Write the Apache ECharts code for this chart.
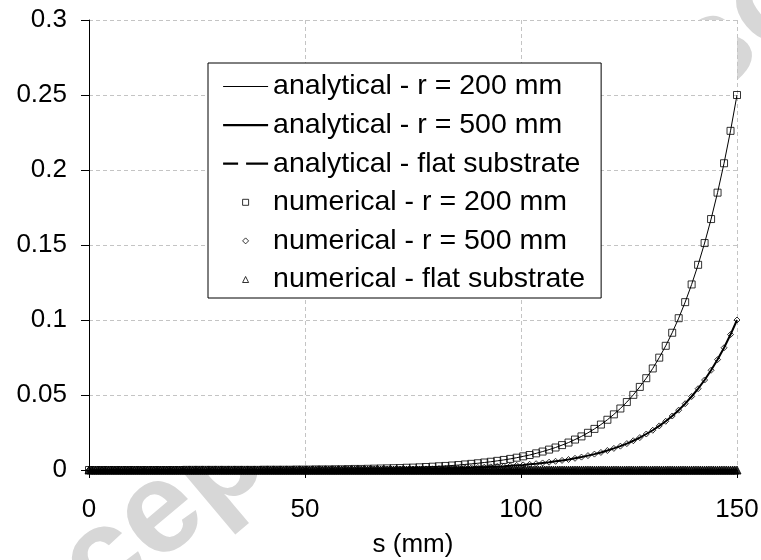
<!DOCTYPE html>
<html>
<head>
<meta charset="utf-8">
<script src="https://cdn.jsdelivr.net/npm/echarts@6/dist/echarts.min.js"></script>
<style>
  html, body { margin: 0; padding: 0; background: #fff; }
  #chart { width: 761px; height: 560px; }
</style>
</head>
<body>
<div id="chart"></div>
<script>
// Arc length along the substrate, s (mm), for the curved-substrate runs
const sValues = [
  0, 1.5, 3, 4.5, 6, 7.5, 9, 10.5, 12, 13.5,
  15, 16.5, 18, 19.5, 21, 22.5, 24, 25.5, 27, 28.5,
  30, 31.5, 33, 34.5, 36, 37.5, 39, 40.5, 42, 43.5,
  45, 46.5, 48, 49.5, 51, 52.5, 54, 55.5, 57, 58.5,
  60, 61.5, 63, 64.5, 66, 67.5, 69, 70.5, 72, 73.5,
  75, 76.5, 78, 79.5, 81, 82.5, 84, 85.5, 87, 88.5,
  90, 91.5, 93, 94.5, 96, 97.5, 99, 100.5, 102, 103.5,
  105, 106.5, 108, 109.5, 111, 112.5, 114, 115.5, 117, 118.5,
  120, 121.5, 123, 124.5, 126, 127.5, 129, 130.5, 132, 133.5,
  135, 136.5, 138, 139.5, 141, 142.5, 144, 145.5, 147, 148.5,
  150
];

// Response for r = 200 mm (analytical and numerical coincide)
const r200 = [
  0, 0, 0, 0, 0, 0, 0, 0, 0, 0,
  0, 0, 0, 0, 0, 0.0001, 0.0001, 0.0001, 0.0001, 0.0001,
  0.0001, 0.0001, 0.0001, 0.0001, 0.0001, 0.0001, 0.0001, 0.0002, 0.0002, 0.0002,
  0.0002, 0.0002, 0.0003, 0.0003, 0.0003, 0.0004, 0.0004, 0.0004, 0.0005, 0.0005,
  0.0006, 0.0007, 0.0007, 0.0008, 0.0009, 0.0010, 0.0011, 0.0012, 0.0013, 0.0015,
  0.0016, 0.0018, 0.0020, 0.0022, 0.0025, 0.0027, 0.0030, 0.0033, 0.0037, 0.0041,
  0.0045, 0.0050, 0.0055, 0.0061, 0.0067, 0.0074, 0.0082, 0.0091, 0.0100, 0.0111,
  0.0123, 0.0136, 0.0150, 0.0166, 0.0183, 0.0203, 0.0224, 0.0248, 0.0274, 0.0303,
  0.0335, 0.0371, 0.0410, 0.0453, 0.0501, 0.0554, 0.0612, 0.0677, 0.0749, 0.0828,
  0.0915, 0.1012, 0.1119, 0.1237, 0.1368, 0.1513, 0.1673, 0.1849, 0.2045, 0.2261,
  0.2500
];

// Response for r = 500 mm
const r500 = [
  0, 0, 0, 0, 0, 0, 0, 0, 0, 0,
  0, 0, 0, 0, 0, 0, 0, 0, 0, 0,
  0, 0, 0, 0, 0, 0, 0, 0, 0.0001, 0.0001,
  0.0001, 0.0001, 0.0001, 0.0001, 0.0001, 0.0001, 0.0001, 0.0002, 0.0002, 0.0002,
  0.0002, 0.0002, 0.0003, 0.0003, 0.0003, 0.0004, 0.0004, 0.0004, 0.0005, 0.0005,
  0.0006, 0.0007, 0.0007, 0.0008, 0.0009, 0.0010, 0.0011, 0.0012, 0.0014, 0.0015,
  0.0017, 0.0019, 0.0021, 0.0023, 0.0025, 0.0028, 0.0031, 0.0034, 0.0038, 0.0042,
  0.0047, 0.0052, 0.0058, 0.0064, 0.0070, 0.0078, 0.0086, 0.0096, 0.0106, 0.0117,
  0.0130, 0.0144, 0.0159, 0.0176, 0.0195, 0.0216, 0.0240, 0.0265, 0.0294, 0.0325,
  0.0360, 0.0399, 0.0442, 0.0490, 0.0542, 0.0600, 0.0665, 0.0736, 0.0815, 0.0903,
  0.1000
];

// Flat substrate run: finer mesh along s (mm)
const sFlat = [
  0, 0.5, 1, 1.5, 2, 2.5, 3, 3.5, 4, 4.5, 5, 5.5, 6, 6.5, 7, 7.5, 8, 8.5, 9, 9.5,
  10, 10.5, 11, 11.5, 12, 12.5, 13, 13.5, 14, 14.5, 15, 15.5, 16, 16.5, 17, 17.5, 18, 18.5, 19, 19.5,
  20, 20.5, 21, 21.5, 22, 22.5, 23, 23.5, 24, 24.5, 25, 25.5, 26, 26.5, 27, 27.5, 28, 28.5, 29, 29.5,
  30, 30.5, 31, 31.5, 32, 32.5, 33, 33.5, 34, 34.5, 35, 35.5, 36, 36.5, 37, 37.5, 38, 38.5, 39, 39.5,
  40, 40.5, 41, 41.5, 42, 42.5, 43, 43.5, 44, 44.5, 45, 45.5, 46, 46.5, 47, 47.5, 48, 48.5, 49, 49.5,
  50, 50.5, 51, 51.5, 52, 52.5, 53, 53.5, 54, 54.5, 55, 55.5, 56, 56.5, 57, 57.5, 58, 58.5, 59, 59.5,
  60, 60.5, 61, 61.5, 62, 62.5, 63, 63.5, 64, 64.5, 65, 65.5, 66, 66.5, 67, 67.5, 68, 68.5, 69, 69.5,
  70, 70.5, 71, 71.5, 72, 72.5, 73, 73.5, 74, 74.5, 75, 75.5, 76, 76.5, 77, 77.5, 78, 78.5, 79, 79.5,
  80, 80.5, 81, 81.5, 82, 82.5, 83, 83.5, 84, 84.5, 85, 85.5, 86, 86.5, 87, 87.5, 88, 88.5, 89, 89.5,
  90, 90.5, 91, 91.5, 92, 92.5, 93, 93.5, 94, 94.5, 95, 95.5, 96, 96.5, 97, 97.5, 98, 98.5, 99, 99.5,
  100, 100.5, 101, 101.5, 102, 102.5, 103, 103.5, 104, 104.5, 105, 105.5, 106, 106.5, 107, 107.5, 108, 108.5, 109, 109.5,
  110, 110.5, 111, 111.5, 112, 112.5, 113, 113.5, 114, 114.5, 115, 115.5, 116, 116.5, 117, 117.5, 118, 118.5, 119, 119.5,
  120, 120.5, 121, 121.5, 122, 122.5, 123, 123.5, 124, 124.5, 125, 125.5, 126, 126.5, 127, 127.5, 128, 128.5, 129, 129.5,
  130, 130.5, 131, 131.5, 132, 132.5, 133, 133.5, 134, 134.5, 135, 135.5, 136, 136.5, 137, 137.5, 138, 138.5, 139, 139.5,
  140, 140.5, 141, 141.5, 142, 142.5, 143, 143.5, 144, 144.5, 145, 145.5, 146, 146.5, 147, 147.5, 148, 148.5, 149, 149.5,
  150
];

// Response for the flat substrate (stays at zero)
const flat = [
  0, 0, 0, 0, 0, 0, 0, 0, 0, 0, 0, 0, 0, 0, 0, 0, 0, 0, 0, 0,
  0, 0, 0, 0, 0, 0, 0, 0, 0, 0, 0, 0, 0, 0, 0, 0, 0, 0, 0, 0,
  0, 0, 0, 0, 0, 0, 0, 0, 0, 0, 0, 0, 0, 0, 0, 0, 0, 0, 0, 0,
  0, 0, 0, 0, 0, 0, 0, 0, 0, 0, 0, 0, 0, 0, 0, 0, 0, 0, 0, 0,
  0, 0, 0, 0, 0, 0, 0, 0, 0, 0, 0, 0, 0, 0, 0, 0, 0, 0, 0, 0,
  0, 0, 0, 0, 0, 0, 0, 0, 0, 0, 0, 0, 0, 0, 0, 0, 0, 0, 0, 0,
  0, 0, 0, 0, 0, 0, 0, 0, 0, 0, 0, 0, 0, 0, 0, 0, 0, 0, 0, 0,
  0, 0, 0, 0, 0, 0, 0, 0, 0, 0, 0, 0, 0, 0, 0, 0, 0, 0, 0, 0,
  0, 0, 0, 0, 0, 0, 0, 0, 0, 0, 0, 0, 0, 0, 0, 0, 0, 0, 0, 0,
  0, 0, 0, 0, 0, 0, 0, 0, 0, 0, 0, 0, 0, 0, 0, 0, 0, 0, 0, 0,
  0, 0, 0, 0, 0, 0, 0, 0, 0, 0, 0, 0, 0, 0, 0, 0, 0, 0, 0, 0,
  0, 0, 0, 0, 0, 0, 0, 0, 0, 0, 0, 0, 0, 0, 0, 0, 0, 0, 0, 0,
  0, 0, 0, 0, 0, 0, 0, 0, 0, 0, 0, 0, 0, 0, 0, 0, 0, 0, 0, 0,
  0, 0, 0, 0, 0, 0, 0, 0, 0, 0, 0, 0, 0, 0, 0, 0, 0, 0, 0, 0,
  0, 0, 0, 0, 0, 0, 0, 0, 0, 0, 0, 0, 0, 0, 0, 0, 0, 0, 0, 0,
  0
];

const seriesNames = [
  'analytical - r = 200 mm',
  'analytical - r = 500 mm',
  'analytical - flat substrate',
  'numerical - r = 200 mm',
  'numerical - r = 500 mm',
  'numerical - flat substrate'
];

const xTicks = { min: 0, max: 150, interval: 50 };
const yTicks = { min: 0, max: 0.3, interval: 0.05 };

const pairs = (xs, ys) => xs.map((s, i) => [s, ys[i]]);

const FONT = 'Liberation Sans, Arial, sans-serif';
const gridLine = { show: true, lineStyle: { color: '#c4c4c4', width: 1, type: [4, 3] } };

// Outline shapes for the legend keys (path icons keep their aspect ratio)
const ICON_SQUARE = 'path://M0,0H10V10H0Z';
const ICON_DIAMOND = 'path://M5,0L10,5L5,10L0,5Z';
const ICON_TRIANGLE = 'path://M5,0L10,10H0Z';
const HOLLOW = { color: 'rgba(255,255,255,0)', borderColor: '#000', borderWidth: 1 };

function lineSeries(name, xs, ys, width, type) {
  return {
    name, type: 'line', data: pairs(xs, ys), symbol: 'none', showSymbol: false,
    color: '#000',
    lineStyle: { color: '#000', width, type },
    z: 2
  };
}
function markerSeries(name, xs, ys, symbol, size, itemStyle) {
  return {
    name, type: 'scatter', data: pairs(xs, ys), symbol, symbolSize: size,
    itemStyle,
    z: 3
  };
}

const chart = echarts.init(document.getElementById('chart'), null, { renderer: 'canvas' });

chart.setOption({
  animation: false,
  backgroundColor: '#fff',
  textStyle: { fontFamily: FONT },
  graphic: {
    z: -10,
    elements: [{
      type: 'text',
      z: -10,
      x: -50, y: 692,
      rotation: 40 * Math.PI / 180,
      silent: true,
      style: {
        text: 'Accepted Manuscript',
        font: 'bold 130px ' + FONT,
        fill: '#d7d7d7',
        align: 'left',
        verticalAlign: 'middle'
      }
    }]
  },
  grid: {
    left: 89, right: 24, top: 20, bottom: 90,
    show: true, backgroundColor: '#fff', borderWidth: 0,
    outerBoundsMode: 'none'
  },
  legend: {
    orient: 'vertical',
    left: 208, top: 63,
    itemWidth: 45, itemHeight: 6, itemGap: 9.6,
    padding: [9, 16, 4, 14],
    symbolKeepAspect: true,
    borderColor: '#000', borderWidth: 1, backgroundColor: '#fff',
    selectedMode: false,
    textStyle: { fontSize: 28.5, color: '#000', fontFamily: FONT },
    data: [
      { name: seriesNames[0], itemStyle: { opacity: 0 }, lineStyle: { width: 1 } },
      { name: seriesNames[1], itemStyle: { opacity: 0 }, lineStyle: { width: 2.2 } },
      { name: seriesNames[2], itemStyle: { opacity: 0 }, lineStyle: { width: 2.2 } },
      { name: seriesNames[3], icon: ICON_SQUARE, itemStyle: HOLLOW },
      { name: seriesNames[4], icon: ICON_DIAMOND, itemStyle: HOLLOW },
      { name: seriesNames[5], icon: ICON_TRIANGLE, itemStyle: HOLLOW }
    ]
  },
  xAxis: {
    type: 'value', min: xTicks.min, max: xTicks.max, interval: xTicks.interval,
    name: 's (mm)', nameLocation: 'middle', nameGap: 62,
    nameTextStyle: { fontSize: 26, color: '#000', fontFamily: FONT },
    axisLine: { show: true, onZero: true, lineStyle: { color: '#000', width: 1 } },
    axisTick: { show: true, inside: false, length: 8, lineStyle: { color: '#000' } },
    axisLabel: { fontSize: 26, color: '#000', margin: 27, fontFamily: FONT },
    splitLine: gridLine
  },
  yAxis: {
    type: 'value', min: yTicks.min, max: yTicks.max, interval: yTicks.interval,
    axisLine: { show: true, lineStyle: { color: '#000', width: 1 } },
    axisTick: { show: true, inside: false, length: 8, lineStyle: { color: '#000' } },
    axisLabel: {
      fontSize: 26, color: '#000', margin: 22, fontFamily: FONT,
      formatter: (v) => String(+v.toFixed(2))
    },
    splitLine: gridLine
  },
  series: [
    lineSeries(seriesNames[0], sValues, r200, 1, 'solid'),
    lineSeries(seriesNames[1], sValues, r500, 2, 'solid'),
    lineSeries(seriesNames[2], sFlat, flat, 2, [15, 8, 24, 8]),
    markerSeries(seriesNames[3], sValues, r200, 'rect', 7, HOLLOW),
    markerSeries(seriesNames[4], sValues, r500, 'diamond', 6, HOLLOW),
    markerSeries(seriesNames[5], sFlat, flat, 'triangle', 8,
      { color: '#000', borderColor: '#000', borderWidth: 1 })
  ]
});
</script>
</body>
</html>
